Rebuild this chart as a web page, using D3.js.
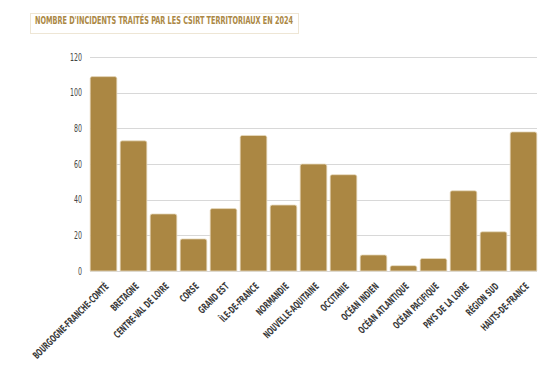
<!DOCTYPE html>
<html>
<head>
<meta charset="utf-8">
<script src="https://cdn.jsdelivr.net/npm/d3@7"></script>
<style>
  body { margin: 0; background: #fff; }
  text { font-family: "DejaVu Sans Condensed", "Liberation Sans Narrow", sans-serif; font-weight: bold; }
</style>
</head>
<body>
<div id="chart"></div>
<script>
const regions = ["BOURGOGNE-FRANCHE-COMTÉ", "BRETAGNE", "CENTRE-VAL DE LOIRE", "CORSE", "GRAND EST",
  "ÎLE-DE-FRANCE", "NORMANDIE", "NOUVELLE-AQUITAINE", "OCCITANIE", "OCÉAN INDIEN",
  "OCÉAN ATLANTIQUE", "OCÉAN PACIFIQUE", "PAYS DE LA LOIRE", "RÉGION SUD", "HAUTS-DE-FRANCE"];
const incidents = [109, 73, 32, 18, 35, 76, 37, 60, 54, 9, 3, 7, 45, 22, 78];
const yTicks = [0, 20, 40, 60, 80, 100, 120];
const title = "NOMBRE D'INCIDENTS TRAITÉS PAR LES CSIRT TERRITORIAUX EN 2024";

const W = 559, H = 365;
const gold = "#ab8743";
// the original face is a very narrow display font; squeeze the text horizontally
const squeeze = 0.66;

const svg = d3.select("#chart").append("svg")
    .attr("width", W)
    .attr("height", H);

// title box
svg.append("rect")
    .attr("x", 30.5).attr("y", 13.5)
    .attr("width", 268).attr("height", 20)
    .attr("fill", "none")
    .attr("stroke", "#dccdaa")
    .attr("stroke-dasharray", "1,1");

svg.append("text")
    .attr("transform", `translate(35,23.5) scale(${squeeze},1)`)
    .attr("fill", gold)
    .attr("font-size", 11)
    .text(title);

const x = d3.scaleBand()
    .domain(regions)
    .range([88.5, 538.5])
    .paddingInner(0.11)
    .paddingOuter(0.055);

const y = d3.scaleLinear()
    .domain([0, 120])
    .range([271, 57]);

// grid
svg.append("g")
    .selectAll("line")
    .data(yTicks)
    .join("line")
    .attr("x1", 90).attr("x2", 537)
    .attr("y1", d => Math.round(y(d)) + 0.5)
    .attr("y2", d => Math.round(y(d)) + 0.5)
    .attr("stroke", "#d8d8d8")
    .attr("stroke-width", 1);

svg.append("g")
    .selectAll("text")
    .data(yTicks)
    .join("text")
    .attr("transform", d => `translate(82,${y(d) + 3.5}) scale(0.7,1)`)
    .attr("text-anchor", "end")
    .attr("font-size", 10)
    .style("font-weight", "normal")
    .attr("fill", "#444")
    .text(d => d);

// bars
svg.append("g")
    .selectAll("path")
    .data(incidents)
    .join("path")
    .attr("d", (d, i) => {
        const x0 = x(regions[i]), w = x.bandwidth();
        const y0 = y(d), y1 = y(0), r = Math.min(2, (y1 - y0) / 2);
        return `M${x0},${y1}V${y0 + r}Q${x0},${y0} ${x0 + r},${y0}H${x0 + w - r}Q${x0 + w},${y0} ${x0 + w},${y0 + r}V${y1}Z`;
    })
    .attr("fill", gold)
    .attr("stroke", "#e8dcc2")
    .attr("stroke-width", 0.8);

// x labels
svg.append("g")
    .selectAll("text")
    .data(regions)
    .join("text")
    .attr("transform", d => `translate(${x(d) + x.bandwidth() / 2 + 6},${287}) rotate(-45) scale(${squeeze},1)`)
    .attr("text-anchor", "end")
    .attr("font-size", 10)
    .attr("fill", "#3a3a3a")
    .text(d => d);
</script>
</body>
</html>
